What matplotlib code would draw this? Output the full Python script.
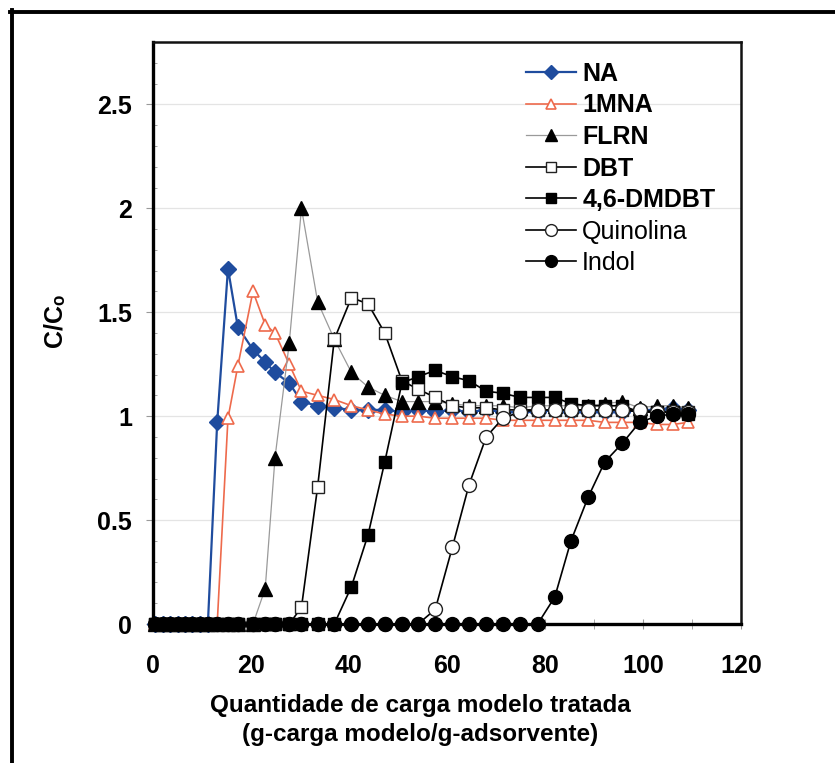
import matplotlib
matplotlib.use("Agg")
import matplotlib.pyplot as plt
from matplotlib.lines import Line2D
from matplotlib.ticker import MultipleLocator

plt.rcParams['font.family'] = ['Liberation Sans', 'DejaVu Sans']

# Treated model-feed quantity (g feed / g adsorbent), shared sampling points
carga = [0.5, 2.0, 3.5, 5.0, 6.5, 8.0, 9.6, 11.2, 13.1, 15.3, 17.3, 20.4, 22.9,
         24.9, 27.8, 30.3, 33.6, 37.0, 40.5, 43.9, 47.3, 50.8, 54.1, 57.6, 61.1,
         64.5, 68.0, 71.4, 74.9, 78.5, 82.0, 85.3, 88.8, 92.2, 95.8, 99.3, 102.8,
         106.1, 109.2]

# C/Co breakthrough curves
na = [0, 0, 0, 0, 0, 0, 0, 0, 0.97, 1.71, 1.43, 1.32, 1.26, 1.21, 1.16, 1.07,
      1.05, 1.04, 1.03, 1.03, 1.03, 1.02, 1.03, 1.02, 1.03, 1.02, 1.03, 1.02,
      1.02, 1.02, 1.03, 1.02, 1.02, 1.02, 1.02, 1.03, 1.03, 1.04, 1.03]
mna1 = [0, 0, 0, 0, 0, 0, 0, 0, 0, 0.99, 1.24, 1.60, 1.44, 1.40, 1.25, 1.12,
        1.10, 1.08, 1.05, 1.03, 1.01, 1.00, 1.00, 0.99, 0.99, 0.99, 0.99, 0.98,
        0.98, 0.98, 0.98, 0.98, 0.98, 0.97, 0.97, 0.97, 0.96, 0.96, 0.97]
flrn = [0, 0, 0, 0, 0, 0, 0, 0, 0, 0, 0, 0, 0.17, 0.80, 1.35, 2.00, 1.55, 1.37,
        1.21, 1.14, 1.10, 1.07, 1.07, 1.07, 1.06, 1.05, 1.05, 1.05, 1.04, 1.05,
        1.05, 1.05, 1.05, 1.06, 1.07, 1.04, 1.05, 1.05, 1.04]
dbt = [0, 0, 0, 0, 0, 0, 0, 0, 0, 0, 0, 0, 0, 0, 0, 0.08, 0.66, 1.37, 1.57,
       1.54, 1.40, 1.17, 1.13, 1.09, 1.05, 1.04, 1.04, 1.03, 1.03, 1.03, 1.03,
       1.03, 1.03, 1.03, 1.03, 1.02, 1.02, 1.02, 1.02]
dmdbt = [0, 0, 0, 0, 0, 0, 0, 0, 0, 0, 0, 0, 0, 0, 0, 0, 0, 0, 0.18, 0.43,
         0.78, 1.16, 1.19, 1.22, 1.19, 1.17, 1.12, 1.11, 1.09, 1.09, 1.09, 1.06,
         1.05, 1.05, 1.05, 1.02, 1.02, 1.02, 1.01]
quinolina = [0, 0, 0, 0, 0, 0, 0, 0, 0, 0, 0, 0, 0, 0, 0, 0, 0, 0, 0, 0, 0, 0,
             0, 0.07, 0.37, 0.67, 0.90, 0.99, 1.02, 1.03, 1.03, 1.03, 1.03,
             1.03, 1.03, 1.03, 1.02, 1.02, 1.02]
indol = [0, 0, 0, 0, 0, 0, 0, 0, 0, 0, 0, 0, 0, 0, 0, 0, 0, 0, 0, 0, 0, 0, 0,
         0, 0, 0, 0, 0, 0, 0, 0.13, 0.40, 0.61, 0.78, 0.87, 0.97, 1.00, 1.01,
         1.01]

y_ticks = [0, 0.5, 1, 1.5, 2, 2.5]
y_tick_labels = ['0', '0.5', '1', '1.5', '2', '2.5']
x_ticks = [0, 20, 40, 60, 80, 100, 120]

fig = plt.figure(figsize=(8.35, 7.63), dpi=100)
ax = fig.add_axes([153 / 835, 1 - 624 / 763, 588 / 835, 582 / 763])

series = [
    (na, 'NA', dict(color='#1f4c9e', lw=1.6, marker='D', ms=8.5,
                    mfc='#1f4c9e', mec='#1f4c9e')),
    (mna1, '1MNA', dict(color='#ee6a4c', lw=1.2, marker='^', ms=9,
                        mfc='white', mec='#ee6a4c', mew=1.2)),
    (flrn, 'FLRN', dict(color='#9a9a9a', lw=0.9, marker='^', ms=9.5,
                        mfc='black', mec='black')),
    (dbt, 'DBT', dict(color='black', lw=1.2, marker='s', ms=8,
                      mfc='white', mec='#222222', mew=1.0)),
    (dmdbt, '4,6-DMDBT', dict(color='black', lw=1.2, marker='s', ms=8.5,
                              mfc='black', mec='black')),
    (quinolina, 'Quinolina', dict(color='black', lw=1.2, marker='o', ms=10,
                                  mfc='white', mec='#222222', mew=1.0)),
    (indol, 'Indol', dict(color='black', lw=1.2, marker='o', ms=10,
                          mfc='black', mec='black')),
]
for vals, name, style in series:
    ax.plot(carga, vals, label=name, clip_on=False, **style)

ax.set_xlim(0, 120)
ax.set_ylim(0, 2.8)
ax.set_xticks(x_ticks)
ax.set_xticklabels([str(v) for v in x_ticks])
ax.set_yticks(y_ticks)
ax.set_yticklabels(y_tick_labels)
ax.xaxis.set_minor_locator(MultipleLocator(10))
ax.yaxis.set_minor_locator(MultipleLocator(0.1))

ax.yaxis.grid(True, which='major', color='#e4e4e4', lw=0.9)
ax.set_axisbelow(True)

for lab in ax.get_xticklabels() + ax.get_yticklabels():
    lab.set_fontweight('bold')
ax.tick_params(axis='x', which='major', direction='inout', length=7,
               color='#999999', labelsize=18, pad=18)
ax.tick_params(axis='x', which='minor', direction='inout', length=7,
               color='#999999')
ax.tick_params(axis='y', which='major', direction='out', length=5,
               color='#999999', labelsize=18, pad=10)
ax.tick_params(axis='y', which='minor', direction='in', length=3,
               color='#999999')

for side in ['left', 'bottom']:
    ax.spines[side].set_linewidth(2.4)
for side in ['top', 'right']:
    ax.spines[side].set_linewidth(1.8)
    ax.spines[side].set_color('#111111')

fig.text(420 / 835, 1 - 720 / 763,
         'Quantidade de carga modelo tratada\n(g-carga modelo/g-adsorvente)',
         ha='center', va='center', fontsize=17.5, fontweight='bold',
         linespacing=1.3)
fig.text(55 / 835, 1 - 320 / 763, 'C/Cₒ', rotation=90, ha='center',
         va='center', fontsize=18, fontweight='bold')

leg = fig.legend(loc='upper left', bbox_to_anchor=(526 / 835, 1 - 62 / 763),
                 frameon=False, fontsize=18, handlelength=2.0,
                 handletextpad=0.25, labelspacing=0.3, borderpad=0,
                 borderaxespad=0, markerscale=0.85)
for txt in leg.get_texts():
    if txt.get_text() in ('Quinolina', 'Indol'):
        txt.set_fontweight('normal')
    else:
        txt.set_fontweight('bold')

# Outer frame around the figure
fig.add_artist(Line2D([10 / 835, 1.0], [1 - 12 / 763, 1 - 12 / 763],
                      transform=fig.transFigure, color='black', lw=2.8))
fig.add_artist(Line2D([12 / 835, 12 / 835], [0.0, 1 - 10 / 763],
                      transform=fig.transFigure, color='black', lw=2.8))

fig.savefig('out.png', dpi=100)
